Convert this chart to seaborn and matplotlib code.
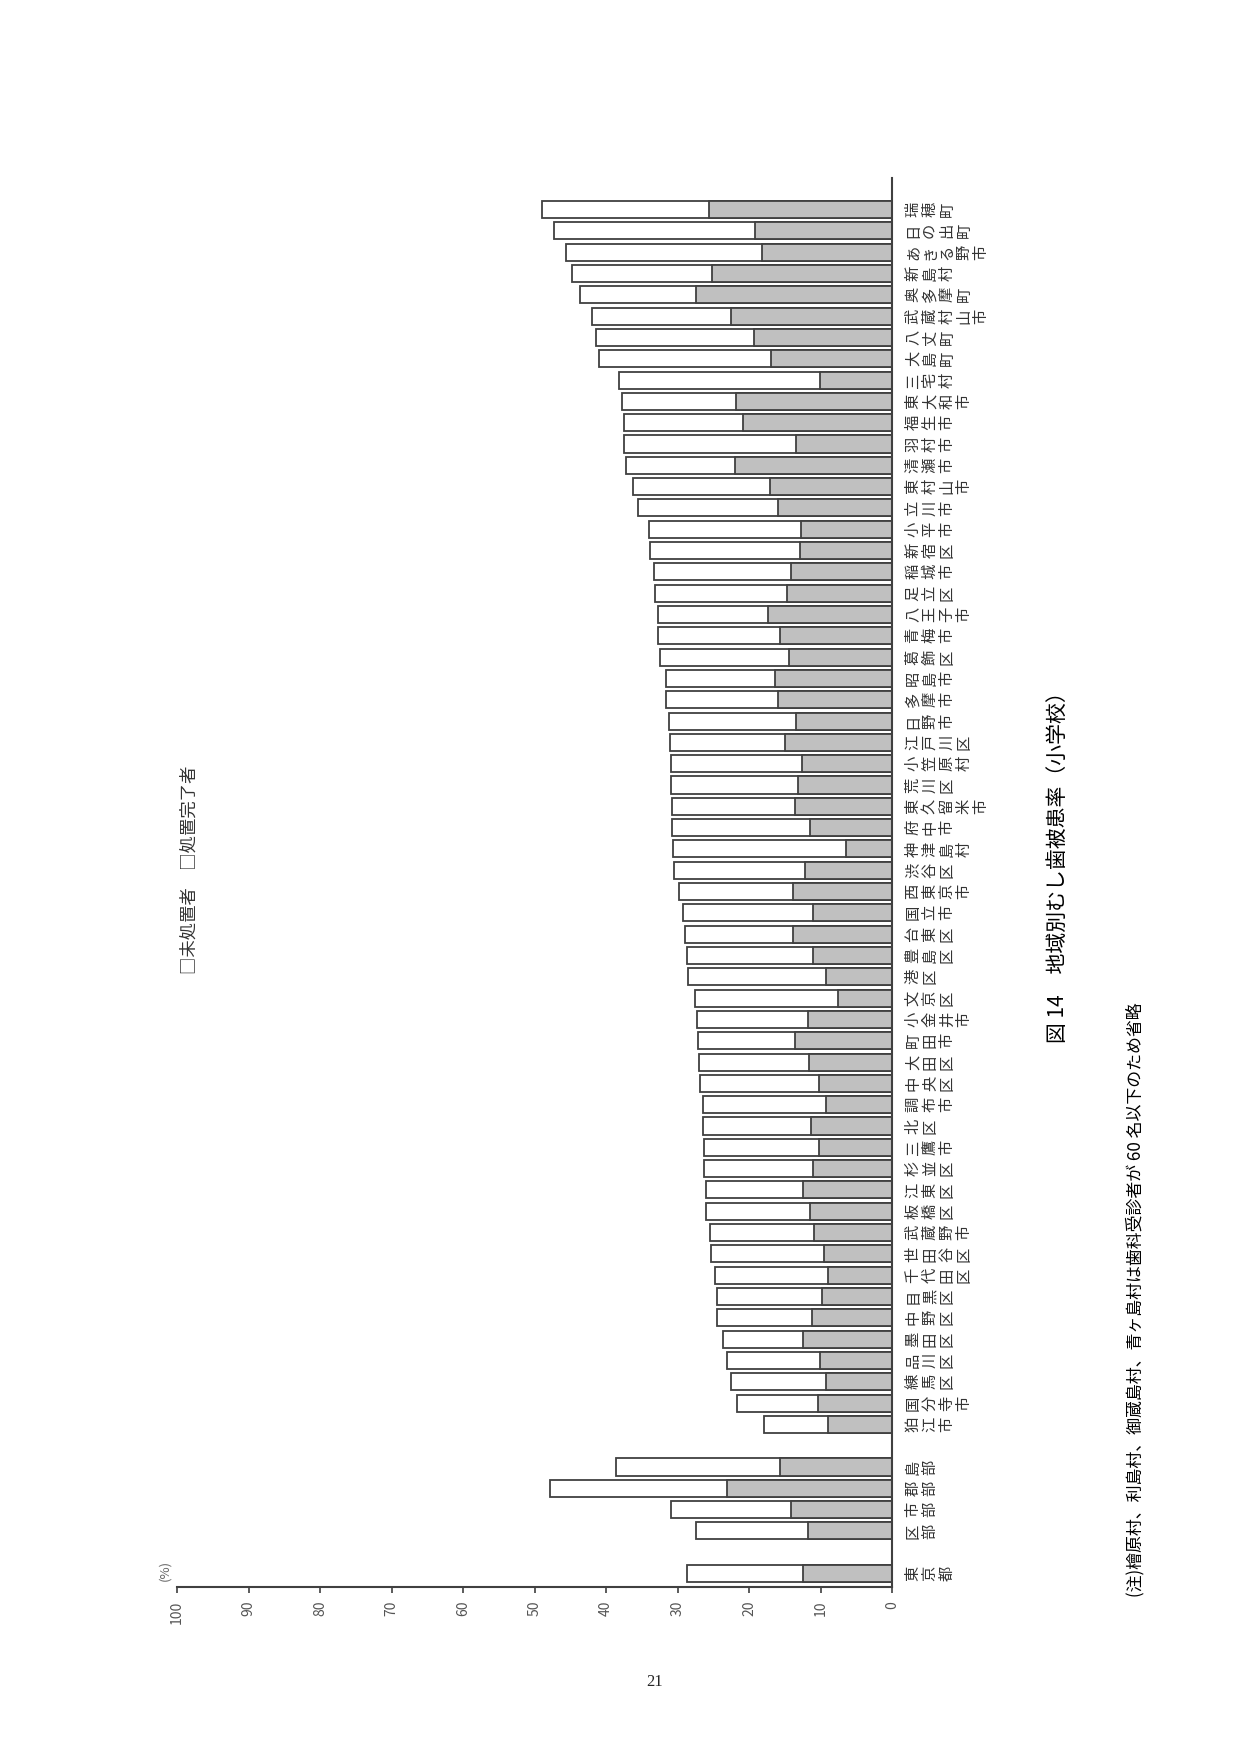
import matplotlib
matplotlib.use("Agg")
import matplotlib.pyplot as plt
import seaborn as sns
import pandas as pd

# areas, top of the page first (chart is printed rotated on the page)
areas = ["瑞穂町", "日の出町", "あきる野市", "新島村", "奥多摩町", "武蔵村山市", "八丈町", "大島町",
         "三宅村", "東大和市", "福生市", "羽村市", "清瀬市", "東村山市", "立川市", "小平市",
         "新宿区", "稲城市", "足立区", "八王子市", "青梅市", "葛飾区", "昭島市", "多摩市",
         "日野市", "江戸川区", "小笠原村", "荒川区", "東久留米市", "府中市", "神津島村", "渋谷区",
         "西東京市", "国立市", "台東区", "豊島区", "港区", "文京区", "小金井市", "町田市",
         "大田区", "中央区", "調布市", "北区", "三鷹市", "杉並区", "江東区", "板橋区",
         "武蔵野市", "世田谷区", "千代田区", "目黒区", "中野区", "墨田区", "品川区", "練馬区",
         "国分寺市", "狛江市", "島部", "郡部", "市部", "区部", "東京都"]

# 未処置者 (%)
untreated = [25.6, 19.1, 18.2, 25.2, 27.4, 22.5, 19.3, 16.9,
             10.1, 21.8, 20.8, 13.4, 22.0, 17.1, 15.9, 12.7,
             12.8, 14.1, 14.7, 17.3, 15.6, 14.4, 16.3, 15.9,
             13.4, 15.0, 12.6, 13.1, 13.5, 11.4, 6.5, 12.1,
             13.9, 11.0, 13.8, 11.0, 9.3, 7.6, 11.7, 13.5,
             11.6, 10.2, 9.3, 11.3, 10.2, 11.0, 12.5, 11.5,
             10.9, 9.5, 8.9, 9.8, 11.2, 12.4, 10.1, 9.2,
             10.4, 8.9, 15.6, 23.1, 14.1, 11.7, 12.5]

# 処置完了者 (%)
treated = [23.4, 28.2, 27.4, 19.6, 16.2, 19.4, 22.1, 24.1,
           28.1, 16.0, 16.7, 24.1, 15.2, 19.1, 19.6, 21.3,
           21.1, 19.2, 18.4, 15.4, 17.1, 18.1, 15.3, 15.7,
           17.8, 16.1, 18.3, 17.8, 17.2, 19.3, 24.1, 18.4,
           15.9, 18.2, 15.2, 17.7, 19.3, 19.9, 15.6, 13.6,
           15.4, 16.7, 17.2, 15.2, 16.1, 15.3, 13.5, 14.5,
           14.6, 15.8, 15.8, 14.7, 13.3, 11.2, 13.0, 13.3,
           11.3, 9.0, 23.0, 24.7, 16.8, 15.7, 16.2]

# slot order incl. two empty slots used as spacers
order = areas[:58] + [""] + areas[58:62] + [" "] + areas[62:]

df = pd.DataFrame({"area": areas, "untreated": untreated, "treated": treated})
df["total"] = df["untreated"] + df["treated"]

sns.set_style("white")
plt.rcParams["font.family"] = ["Noto Sans CJK JP", "DejaVu Sans"]

fig = plt.figure(figsize=(12.41, 17.55), dpi=100)
ax = fig.add_axes([177 / 1241, 168 / 1755, 715 / 1241, 1409 / 1755])

edge = "#404040"
sns.barplot(data=df, x="total", y="area", order=order, orient="h", color="white",
            edgecolor=edge, linewidth=1.3, width=0.8, ax=ax, saturation=1)
sns.barplot(data=df, x="untreated", y="area", order=order, orient="h", color="#c0c0c0",
            edgecolor=edge, linewidth=1.3, width=0.8, ax=ax, saturation=1)

ax.set_xlim(100, 0)
ax.set_ylim(len(order) - 1 + 0.63, -1.48)
ax.set_xlabel("")
ax.set_ylabel("")

for s in ["top", "left"]:
    ax.spines[s].set_visible(False)
for s in ["right", "bottom"]:
    ax.spines[s].set_color(edge)
    ax.spines[s].set_linewidth(1.5)

ax.set_xticks(range(0, 101, 10))
ax.tick_params(axis="x", bottom=True, direction="out", length=4, width=1.2, color=edge,
               pad=6, labelsize=10, labelcolor="#555555")
for lab in ax.get_xticklabels():
    lab.set_rotation(90)

ax.yaxis.tick_right()
ax.set_yticks(range(len(order)))
ax.set_yticklabels(["\n".join(name) for name in order])
ax.tick_params(axis="y", length=0, pad=9, labelsize=11, labelcolor="#333333")
for lab in ax.get_yticklabels():
    lab.set_rotation(90)
    lab.set_va("center")
    lab.set_ha("left")
    lab.set_linespacing(1.0)

fig.text(165 / 1241, 1 - 1570 / 1755, "(%)", rotation=90, ha="center", va="center",
         fontsize=9.5, color="#666666")

# legend, printed as plain text
fig.text(190 / 1241, 1 - 870 / 1755, "□未処置者　□処置完了者", rotation=90,
         ha="center", va="center", fontsize=12.5, color="#333333")

fig.text(1058 / 1241, 1 - 862 / 1755, "図 14　地域別むし歯被患率（小学校）", rotation=90,
         ha="center", va="center", fontsize=15, color="black")

fig.text(1135 / 1241, 1 - 1300 / 1755,
         "(注)檜原村、利島村、御蔵島村、青ヶ島村は歯科受診者が 60 名以下のため省略",
         rotation=90, ha="center", va="center", fontsize=12.2, color="black")

fig.text(655 / 1241, 1 - 1682 / 1755, "21", ha="center", va="center", fontsize=12,
         family=["Liberation Serif", "DejaVu Serif"])

fig.savefig("out.png", dpi=100)
